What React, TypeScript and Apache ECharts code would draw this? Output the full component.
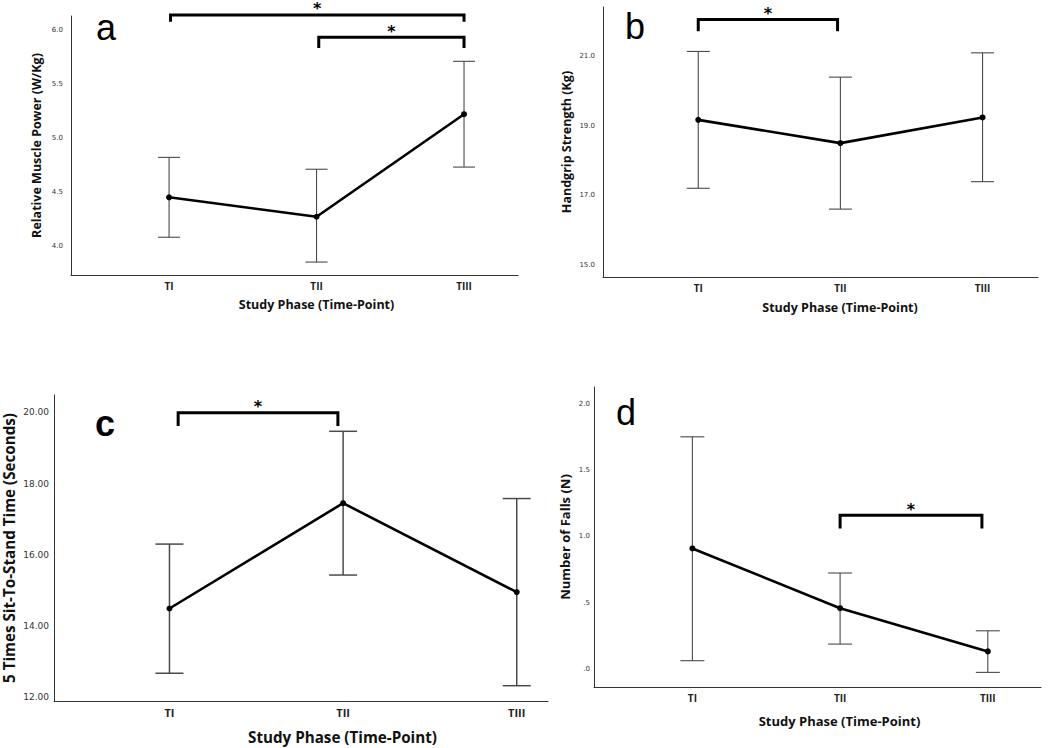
import React, { useEffect, useRef } from "react";
import * as echarts from "echarts";

// ---------- data ----------
const categories = ["TI", "TII", "TIII"];
const categoryPos = [1, 2, 3];

const powerMean = [4.45, 4.27, 5.22];
const powerLow = [4.08, 3.85, 4.73];
const powerHigh = [4.82, 4.71, 5.71];
const powerTicks = [4.0, 4.5, 5.0, 5.5, 6.0];
// [from, to, bracketY, legEndY]
const powerBrackets = [
  [1.01, 3.0, 6.14, 6.076],
  [2.015, 3.0, 5.932, 5.833],
];

const gripMean = [19.17, 18.5, 19.24];
const gripLow = [17.2, 16.6, 17.39];
const gripHigh = [21.14, 20.4, 21.1];
const gripTicks = [15, 17, 19, 21];
const gripBrackets = [[1.0, 1.98, 22.06, 21.72]];

const sitMean = [14.49, 17.45, 14.95];
const sitLow = [12.67, 15.43, 12.32];
const sitHigh = [16.3, 19.47, 17.58];
const sitTicks = [12, 14, 16, 18, 20];
const sitBrackets = [[1.05, 1.97, 19.99, 19.62]];

const fallsMean = [0.91, 0.46, 0.135];
const fallsLow = [0.065, 0.19, -0.023];
const fallsHigh = [1.75, 0.725, 0.29];
const fallsTicks = [0, 0.5, 1.0, 1.5, 2.0];
const fallsBrackets = [[2.0, 2.96, 1.16, 1.06]];

const xTitle = "Study Phase (Time-Point)";

// ---------- layout / style ----------
const panels = [
  {
    letter: "a", bold: false, mean: powerMean, low: powerLow, high: powerHigh, ticks: powerTicks, brackets: powerBrackets,
    yName: "Relative Muscle Power (W/Kg)", fmt: (v: number) => v.toFixed(1),
    grid: { left: 71, top: 16, width: 447, height: 259 },
    xMin: 0.335, xMax: 3.366, yMin: 3.73, yMax: 6.13,
    tickFont: 7, xTickFont: 10, labelMargin: 8, titleFont: 12.5, yGap: 28, xGap: 23.3, xPad: 44, cap: 11,
    letterPos: [96, 27],
  },
  {
    letter: "b", bold: false, mean: gripMean, low: gripLow, high: gripHigh, ticks: gripTicks, brackets: gripBrackets,
    yName: "Handgrip Strength (Kg)", fmt: (v: number) => v.toFixed(1),
    grid: { left: 603, top: 7, width: 435, height: 270 },
    xMin: 0.33, xMax: 3.39, yMin: 14.645, yMax: 22.42,
    tickFont: 7, xTickFont: 10, labelMargin: 8, titleFont: 12.5, yGap: 30.5, xGap: 24.3, xPad: 39, cap: 11.5,
    letterPos: [625, 26],
  },
  {
    letter: "c", bold: true, mean: sitMean, low: sitLow, high: sitHigh, ticks: sitTicks, brackets: sitBrackets,
    yName: "5 Times Sit-To-Stand Time (Seconds)", fmt: (v: number) => v.toFixed(2),
    grid: { left: 54, top: 395, width: 494, height: 306 },
    xMin: 0.335, xMax: 3.18, yMin: 11.89, yMax: 20.49,
    tickFont: 9, xTickFont: 11, labelMargin: 5, titleFont: 15.2, yGap: 37.5, xGap: 28.2, xPad: 83, cap: 14,
    letterPos: [95, 423],
  },
  {
    letter: "d", bold: false, mean: fallsMean, low: fallsLow, high: fallsHigh, ticks: fallsTicks, brackets: fallsBrackets,
    yName: "Number of Falls (N)", fmt: (v: number) => v.toFixed(1).replace(/^0/, ""),
    grid: { left: 594, top: 387, width: 447, height: 300 },
    xMin: 0.334, xMax: 3.36, yMin: -0.133, yMax: 2.125,
    tickFont: 7, xTickFont: 10, labelMargin: 4, titleFont: 13, yGap: 23, xGap: 27, xPad: 44, cap: 12,
    letterPos: [616, 412],
  },
];

const TITLE_FONT = "'Open Sans', 'DejaVu Sans', sans-serif";
const TICK_FONT = "'DejaVu Sans', sans-serif";

function buildOption() {
  const grid: any[] = [];
  const xAxis: any[] = [];
  const yAxis: any[] = [];
  const series: any[] = [];
  const graphic: any[] = [];

  panels.forEach((p, i) => {
    grid.push({ ...p.grid, containLabel: false });
    xAxis.push({
      type: "value", gridIndex: i, min: p.xMin, max: p.xMax,
      name: xTitle, nameLocation: "middle", nameGap: p.xGap,
      nameTextStyle: {
        fontFamily: TITLE_FONT, fontWeight: "bold", fontSize: p.titleFont, color: "#111",
        padding: [0, 0, 0, p.xPad],
      },
      axisLine: { show: true, onZero: false, lineStyle: { color: "#333", width: 1 } },
      axisTick: { show: false },
      splitLine: { show: false },
      axisLabel: {
        customValues: categoryPos,
        formatter: (v: number) => categories[categoryPos.indexOf(Math.round(v))] ?? "",
        fontFamily: TITLE_FONT, fontWeight: "bold", fontSize: p.xTickFont,
        color: "#222", margin: 6,
      },
    });
    yAxis.push({
      type: "value", gridIndex: i, min: p.yMin, max: p.yMax,
      name: p.yName, nameLocation: "middle", nameRotate: 90, nameGap: p.yGap,
      nameTextStyle: { fontFamily: TITLE_FONT, fontWeight: "bold", fontSize: p.titleFont, color: "#111" },
      axisLine: { show: true, onZero: false, lineStyle: { color: "#333", width: 1 } },
      axisTick: { show: false },
      splitLine: { show: false },
      axisLabel: {
        customValues: p.ticks,
        formatter: p.fmt,
        fontFamily: TICK_FONT, fontSize: p.tickFont, color: "#333", margin: p.labelMargin,
      },
    });

    // error bars
    const capHalf = p.cap;
    series.push({
      type: "custom", xAxisIndex: i, yAxisIndex: i, silent: true, clip: false,
      encode: { x: 0, y: [1, 2] },
      data: categoryPos.map((x, k) => [x, p.low[k], p.high[k]]),
      renderItem: (_params: any, api: any) => {
        const x = api.value(0);
        const lo = api.coord([x, api.value(1)]);
        const hi = api.coord([x, api.value(2)]);
        const style = { stroke: "#4a4a4a", lineWidth: p.letter === "c" ? 1.5 : 1.1 };
        return {
          type: "group",
          children: [
            { type: "line", shape: { x1: lo[0], y1: lo[1], x2: hi[0], y2: hi[1] }, style },
            { type: "line", shape: { x1: lo[0] - capHalf, y1: lo[1], x2: lo[0] + capHalf, y2: lo[1] }, style },
            { type: "line", shape: { x1: hi[0] - capHalf, y1: hi[1], x2: hi[0] + capHalf, y2: hi[1] }, style },
          ],
        };
      },
      z: 1,
    });

    // mean line
    series.push({
      type: "line", xAxisIndex: i, yAxisIndex: i, silent: true,
      data: categoryPos.map((x, k) => [x, p.mean[k]]),
      symbol: "circle", symbolSize: 6,
      lineStyle: { color: "#000", width: 2.6 },
      itemStyle: { color: "#000" },
      z: 3,
    });

    // significance brackets
    series.push({
      type: "custom", xAxisIndex: i, yAxisIndex: i, silent: true, clip: false,
      encode: { x: [0, 1], y: [2, 3] },
      data: p.brackets,
      renderItem: (_params: any, api: any) => {
        const x1 = api.value(0), x2 = api.value(1), y = api.value(2), leg = api.value(3);
        const a = api.coord([x1, leg]);
        const b = api.coord([x1, y]);
        const c = api.coord([x2, y]);
        const d = api.coord([x2, leg]);
        return {
          type: "group",
          children: [
            {
              type: "polyline",
              shape: { points: [a, b, c, d] },
              style: { stroke: "#000", lineWidth: 3, fill: null, lineJoin: "miter" },
            },
            {
              type: "text",
              x: (b[0] + c[0]) / 2, y: b[1] - 6,
              style: {
                text: "*", fill: "#000", align: "center", verticalAlign: "middle",
                font: "bold 16px 'DejaVu Sans', sans-serif",
              },
            },
          ],
        };
      },
      z: 4,
    });

    graphic.push({
      type: "text", left: p.letterPos[0], top: p.letterPos[1] - 18,
      style: {
        text: p.letter, fill: "#000",
        font: (p.bold ? "bold " : "") + "36px 'Liberation Sans', Arial, sans-serif",
      },
    });
  });

  return { animation: false, backgroundColor: "#fff", grid, xAxis, yAxis, series, graphic };
}

export default function App() {
  const ref = useRef<HTMLDivElement>(null);
  useEffect(() => {
    document.body.style.margin = "0";
    const chart = echarts.init(ref.current!, null, { renderer: "svg" });
    chart.setOption(buildOption());
    return () => chart.dispose();
  }, []);
  return <div ref={ref} style={{ width: 1052, height: 748, position: "absolute", left: 0, top: 0 }} />;
}
